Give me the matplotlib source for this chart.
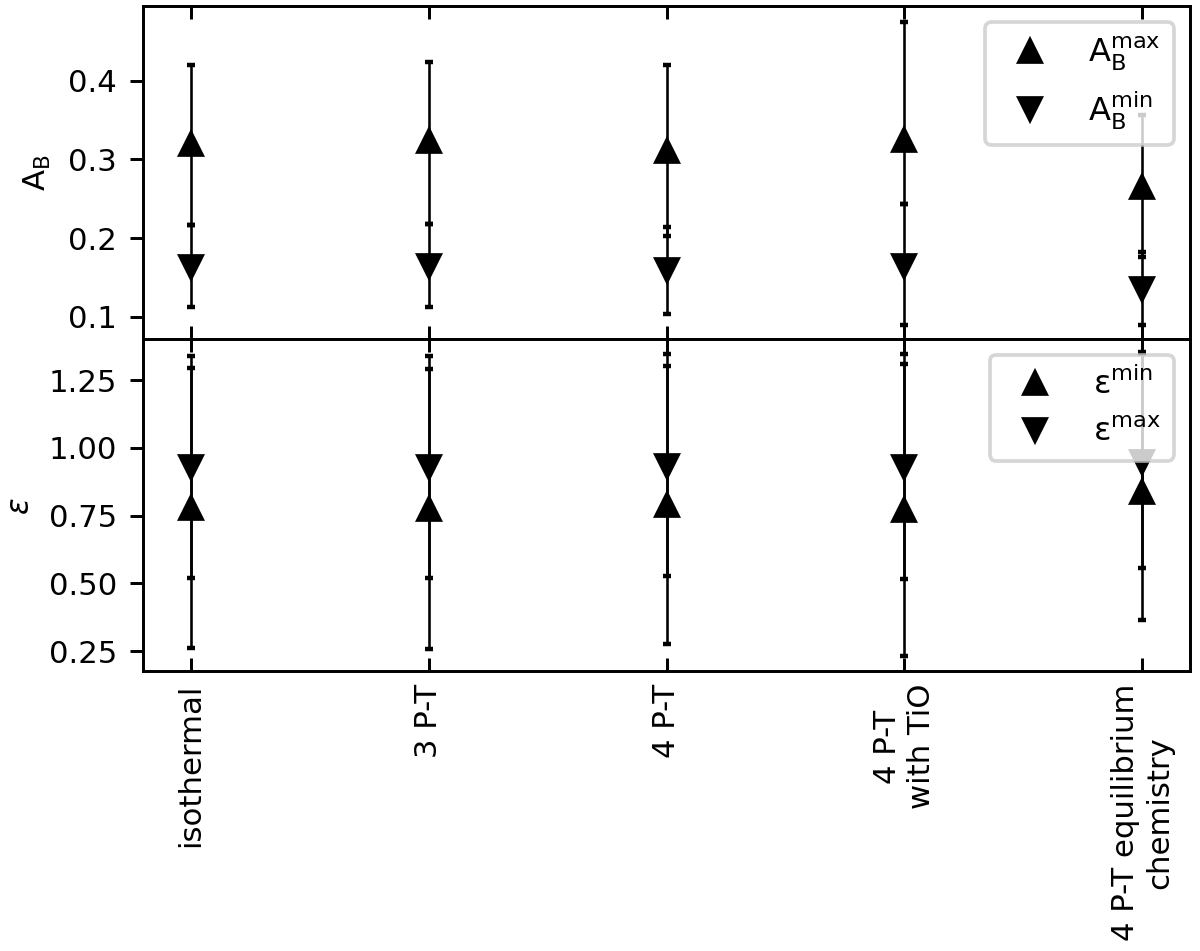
import matplotlib
matplotlib.use("Agg")
import matplotlib.pyplot as plt
import numpy as np

plt.rcParams["font.size"] = 8.3
plt.rcParams["mathtext.default"] = "regular"

models = ["isothermal", "3 P-T", "4 P-T", "4 P-T\nwith TiO", "4 P-T equilibrium\nchemistry"]

# bond albedo: value, lower / upper end of error bar
ab_max = [0.320, 0.323, 0.311, 0.325, 0.265]
ab_max_lo = [0.217, 0.218, 0.203, 0.243, 0.176]
ab_max_hi = [0.420, 0.424, 0.420, 0.475, 0.356]
ab_min = [0.163, 0.164, 0.159, 0.165, 0.135]
ab_min_lo = [0.112, 0.112, 0.103, 0.090, 0.090]
ab_min_hi = [0.216, 0.218, 0.214, 0.243, 0.182]

# redistribution efficiency
eps_min = [0.778, 0.776, 0.790, 0.772, 0.838]
eps_min_lo = [0.263, 0.257, 0.276, 0.232, 0.365]
eps_min_hi = [1.296, 1.293, 1.302, 1.311, 1.345]
eps_max = [0.929, 0.929, 0.935, 0.929, 0.949]
eps_max_lo = [0.522, 0.519, 0.528, 0.516, 0.556]
eps_max_hi = [1.341, 1.341, 1.345, 1.345, 1.354]

x = np.arange(len(models))


def err(v, lo, hi):
    v, lo, hi = np.array(v), np.array(lo), np.array(hi)
    return [v - lo, hi - v]


fig, (ax1, ax2) = plt.subplots(2, 1, sharex=True, figsize=(4.5, 951 / 266.667), dpi=266.667)
fig.subplots_adjust(left=0.1192, right=0.9917, top=0.9937, bottom=0.2944, hspace=0)

ekw = dict(fmt="none", ecolor="k", elinewidth=0.7, capsize=1.1, capthick=1.2, zorder=2)

ax1.errorbar(x, ab_max, yerr=err(ab_max, ab_max_lo, ab_max_hi), **ekw)
ax1.errorbar(x, ab_min, yerr=err(ab_min, ab_min_lo, ab_min_hi), **ekw)
ax1.plot(x, ab_max, "^", color="k", ms=6.2, ls="none", zorder=3, label=r"$A_B^{max}$")
ax1.plot(x, ab_min, "v", color="k", ms=6.2, ls="none", zorder=3, label=r"$A_B^{min}$")
ax1.set_ylim(0.0723, 0.4949)
ax1.set_yticks([0.1, 0.2, 0.3, 0.4])
ax1.set_ylabel(r"$A_B$")
ax1.legend(loc="upper right", fontsize=8.7)

ax2.errorbar(x, eps_min, yerr=err(eps_min, eps_min_lo, eps_min_hi), **ekw)
ax2.errorbar(x, eps_max, yerr=err(eps_max, eps_max_lo, eps_max_hi), **ekw)
ax2.plot(x, eps_min, "^", color="k", ms=6.2, ls="none", zorder=3, label=r"$\epsilon^{min}$")
ax2.plot(x, eps_max, "v", color="k", ms=6.2, ls="none", zorder=3, label=r"$\epsilon^{max}$")
ax2.set_ylim(0.177, 1.404)
ax2.set_yticks([0.25, 0.50, 0.75, 1.00, 1.25])
ax2.set_ylabel("ε", style="italic")
ax2.legend(loc="upper right", fontsize=8.7)

ax2.set_xticks(x)
ax2.set_xticklabels(models, rotation=90)
for ax in (ax1, ax2):
    ax.tick_params(axis="x", direction="in", top=True, bottom=True)

fig.savefig("out.png", dpi=266.667)
